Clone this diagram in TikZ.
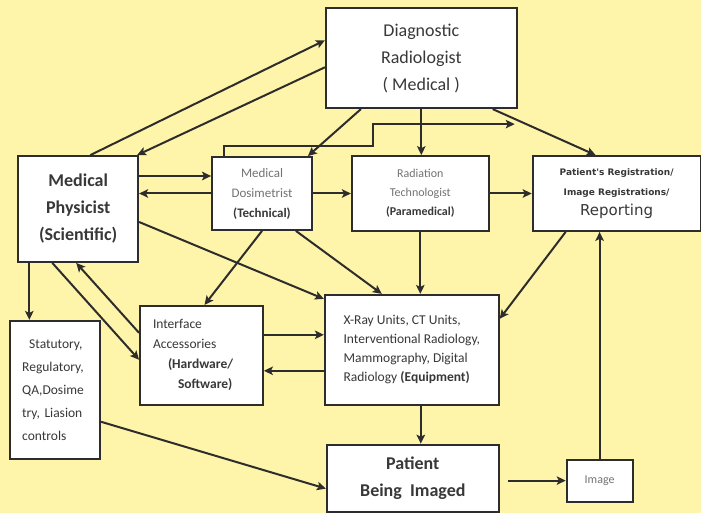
\documentclass[tikz,border=0pt]{standalone}
\usepackage{fontspec}
\setmainfont{Carlito}
\newfontfamily\dejavu{DejaVu Sans}
\usepackage{xcolor}
\usetikzlibrary{arrows.meta, positioning, calc}
\definecolor{paleyellow}{RGB}{255,245,170}
\definecolor{inkgray}{RGB}{45,45,45}
\tikzstyle{block} = [rectangle, draw=inkgray, line width=1.8pt, fill=white, text=black!78, align=center, inner sep=2pt]
\tikzstyle{arrow} = [line width=2pt, draw=inkgray, ->, >={Stealth[length=9pt,width=8.5pt,inset=2pt]}]

\begin{document}
\begin{tikzpicture}[x=1pt, y=1pt]

\fill [paleyellow] (0,0) rectangle (701,-513);
\useasboundingbox (0,0) rectangle (701,-513);

% Staff row
\node (dos) [block, minimum width=100pt, minimum height=73pt, font=\fontsize{13}{20}\selectfont] at (262,-193.5) {{\color{black!55}Medical}\\{\color{black!55}Dosimetrist}\\\textbf{(Technical)}};
\node (tech) [block, right=38pt of dos, minimum width=137pt, minimum height=75pt, font=\fontsize{12}{19}\selectfont] {{\color{black!55}Radiation}\\{\color{black!55}Technologist}\\\textbf{(Paramedical)}};
\node (rep) [block, right=42pt of tech, minimum width=168pt, minimum height=75pt, font=\dejavu\fontsize{15}{20}\selectfont] {{\bfseries\fontsize{9}{20}\selectfont Patient's Registration/}\\{\bfseries\fontsize{9}{20}\selectfont Image Registrations/}\\Reporting};
\node (rad) [block, above=46pt of tech, xshift=1pt, minimum width=191pt, minimum height=100pt, font=\fontsize{18}{27}\selectfont] {Diagnostic\\Radiologist\\( Medical )};
\node (phys) [block, left=72pt of dos, yshift=-15.5pt, minimum width=120pt, minimum height=106pt, font=\bfseries\fontsize{18}{27}\selectfont] {Medical\\Physicist\\(Scientific)};

% Equipment row
\node (equip) [block, below=62pt of tech, xshift=-8.5pt, minimum width=174pt, minimum height=110pt, align=left, font=\fontsize{13.5}{19}\selectfont] {X-Ray Units, CT Units,\\Interventional Radiology,\\Mammography, Digital\\Radiology \textbf{(Equipment)}};
\node (intf) [block, left=60pt of equip, yshift=-5.5pt, minimum height=99pt, inner xsep=13pt, text width=97pt, align=left, font=\fontsize{13.5}{20}\selectfont] {Interface\\Accessories\\\hspace*{15pt}\textbf{(Hardware/}\\\hspace*{25pt}\textbf{Software)}};
\node (stat) [block, below=57pt of phys, xshift=-23pt, minimum height=138pt, inner xsep=12pt, text width=66pt, align=left, font=\fontsize{13.5}{23}\selectfont] {\hspace*{7pt}Statutory,\\Regulatory,\\QA,Dosime\\try, Liasion\\controls};

% Patient row
\node (pat) [block, below=38pt of equip, xshift=1pt, minimum width=172pt, minimum height=67pt, font=\bfseries\fontsize{18}{27}\selectfont] {Patient\\Being~ Imaged};
\node (img) [block, right=66pt of pat, yshift=-2.5pt, minimum width=66pt, minimum height=42pt, text=black!55, font=\fontsize{12}{14}\selectfont] {Image};

% Physicist <-> radiologist
\draw [arrow] ([xshift=73pt]phys.north west) -- ([yshift=-33pt]rad.north west);
\draw [arrow] ([yshift=-60pt]rad.north west) -- ([xshift=-2pt]phys.north east);

% Staff row links
\draw [arrow] ([yshift=17.5pt]phys.east |- dos.west) -- ([yshift=17.5pt]dos.west);
\draw [arrow] (dos.west) -- (phys.east |- dos.west);
\draw [arrow] (dos) -- (tech);
\draw [arrow] (tech) -- (rep);

% From the radiologist
\draw [arrow] (rad.south) -- (rad.south |- tech.north);
\draw [arrow] ([xshift=-25pt]rad.south east) -- ([xshift=-21pt]rep.north);
\draw [arrow] ([xshift=36pt]rad.south west) -- ([xshift=-5pt]dos.north east);
\coordinate (regjoin) at ([xshift=-3pt,yshift=-15pt]rad.south east);
\draw [arrow] ([xshift=13pt]dos.north west) |- ([xshift=60pt,yshift=10pt]dos.north east) |- (regjoin);

% Down to the equipment
\draw [arrow] (dos.south) -- ([xshift=3pt]intf.north);
\draw [arrow] ([xshift=-17pt]dos.south east) -- ([xshift=-30pt]equip.north);
\draw [arrow] ([yshift=-13pt]phys.east) -- ([yshift=-5pt]equip.north west);
\draw [arrow] (tech.south) -- (tech.south |- equip.north);
\draw [arrow] ([xshift=34pt]rep.south west) -- ([yshift=31pt]equip.east);
\draw [arrow] ([yshift=20.5pt]intf.east) -- ([yshift=20.5pt]intf.east -| equip.west);
\draw [arrow] ([yshift=-15.5pt]intf.east -| equip.west) -- ([yshift=-15.5pt]intf.east);

% Physicist to the left column
\draw [arrow] ([xshift=12pt]phys.south west) -- ([xshift=12pt]phys.south west |- stat.north);
\draw [arrow] ([xshift=35pt]phys.south west) -- ([yshift=-4.5pt]intf.west);
\draw [arrow] ([yshift=-28pt]intf.north west) -- ([xshift=-2pt]phys.south);

% Patient and image
\draw [arrow] ([xshift=9pt]equip.south) -- ([xshift=9pt]equip.south |- pat.north);
\draw [arrow] ([yshift=-32pt]stat.east) -- ([yshift=-10.5pt]pat.west);
\draw [arrow] ([xshift=8pt]pat.east |- img.west) -- (img.west);
\draw [arrow] (img.north) -- (img.north |- rep.south);

\end{tikzpicture}
\end{document}
